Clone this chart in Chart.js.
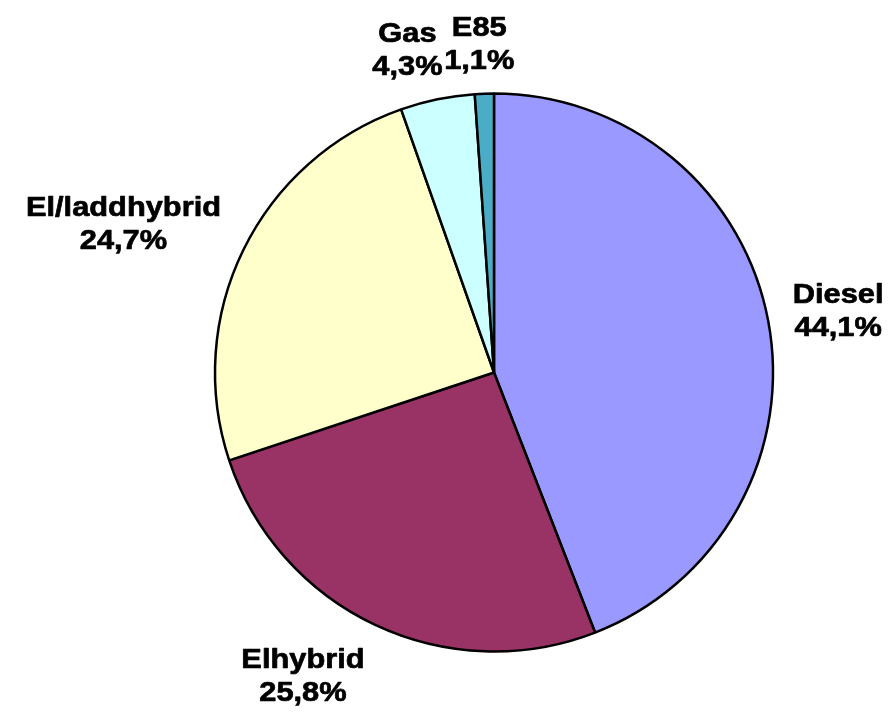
<!DOCTYPE html>
<html>
<head>
<meta charset="utf-8">
<script src="https://cdn.jsdelivr.net/npm/chart.js@4"></script>
<style>
  html, body { margin: 0; padding: 0; background: #ffffff; }
  #wrap { width: 893px; height: 714px; position: relative; }
</style>
</head>
<body>
<div id="wrap"><canvas id="c"></canvas></div>
<script>
// ---- data ----
const categories = ['Diesel', 'Elhybrid', 'El/laddhybrid', 'Gas', 'E85'];
const shares = [44.1, 25.8, 24.7, 4.3, 1.1];
const sliceColors = ['#9999FF', '#993366', '#FFFFCC', '#CCFFFF', '#4BACC6'];

function fmtPct(v) { return v.toFixed(1).replace('.', ',') + '%'; }
function clamp1(t) { return Math.max(-1, Math.min(1, t)); }

const outLabels = {
  id: 'outLabels',
  afterDatasetsDraw(chart) {
    const ctx = chart.ctx;
    const meta = chart.getDatasetMeta(0);
    const sx = 1.1, lineGap = 33, capH = 20, gap = 25, kx = 3.5, ky = 1.4;
    ctx.save();
    ctx.font = 'bold 28px "Liberation Sans", Arial, sans-serif';
    let x0 = 0;
    const boxes = meta.data.map((arc, i) => {
      const p = arc.getProps(['x', 'y', 'startAngle', 'endAngle', 'outerRadius'], true);
      x0 = p.x;
      const mid = (p.startAngle + p.endAngle) / 2;
      const c = Math.cos(mid), s = Math.sin(mid);
      const lines = [categories[i], fmtPct(shares[i])];
      const w = Math.max(...lines.map(t => ctx.measureText(t).width)) * sx;
      const h = capH + lineGap;
      const r = p.outerRadius + gap;
      return {
        lines, w, h,
        cx: p.x + c * r + (w / 2) * clamp1(kx * c),
        cy: p.y + s * r + (h / 2) * clamp1(ky * s)
      };
    });
    // resolve overlaps horizontally
    for (let i = 0; i < boxes.length; i++) {
      for (let j = i + 1; j < boxes.length; j++) {
        const a = boxes[i], b = boxes[j];
        const ox = (a.w + b.w) / 2 - Math.abs(a.cx - b.cx);
        const oy = (a.h + b.h) / 2 - Math.abs(a.cy - b.cy);
        if (ox > 0 && oy > 0) {
          const mover = Math.abs(a.cx - x0) > Math.abs(b.cx - x0) ? a : b;
          const other = mover === a ? b : a;
          mover.cx += Math.sign(mover.cx - other.cx) * ox;
        }
      }
    }
    ctx.fillStyle = '#000000';
    ctx.strokeStyle = '#000000';
    ctx.lineWidth = 0.7;
    ctx.lineJoin = 'round';
    ctx.textAlign = 'center';
    ctx.textBaseline = 'alphabetic';
    boxes.forEach(bx => {
      const top = bx.cy - bx.h / 2;
      bx.lines.forEach((t, k) => {
        ctx.save();
        ctx.translate(bx.cx, top + capH + k * lineGap);
        ctx.scale(sx, 1);
        ctx.fillText(t, 0, 0);
        ctx.strokeText(t, 0, 0);
        ctx.restore();
      });
    });
    ctx.restore();
  }
};

new Chart(document.getElementById('c'), {
  type: 'pie',
  data: {
    labels: categories,
    datasets: [{
      data: shares,
      backgroundColor: sliceColors,
      borderColor: '#000000',
      borderWidth: 2.5
    }]
  },
  options: {
    responsive: true,
    maintainAspectRatio: false,
    animation: false,
    radius: 279,
    layout: { padding: { left: 95, right: 0, top: 31, bottom: 0 } },
    plugins: {
      legend: { display: false },
      tooltip: { enabled: false }
    }
  },
  plugins: [outLabels]
});
</script>
</body>
</html>
